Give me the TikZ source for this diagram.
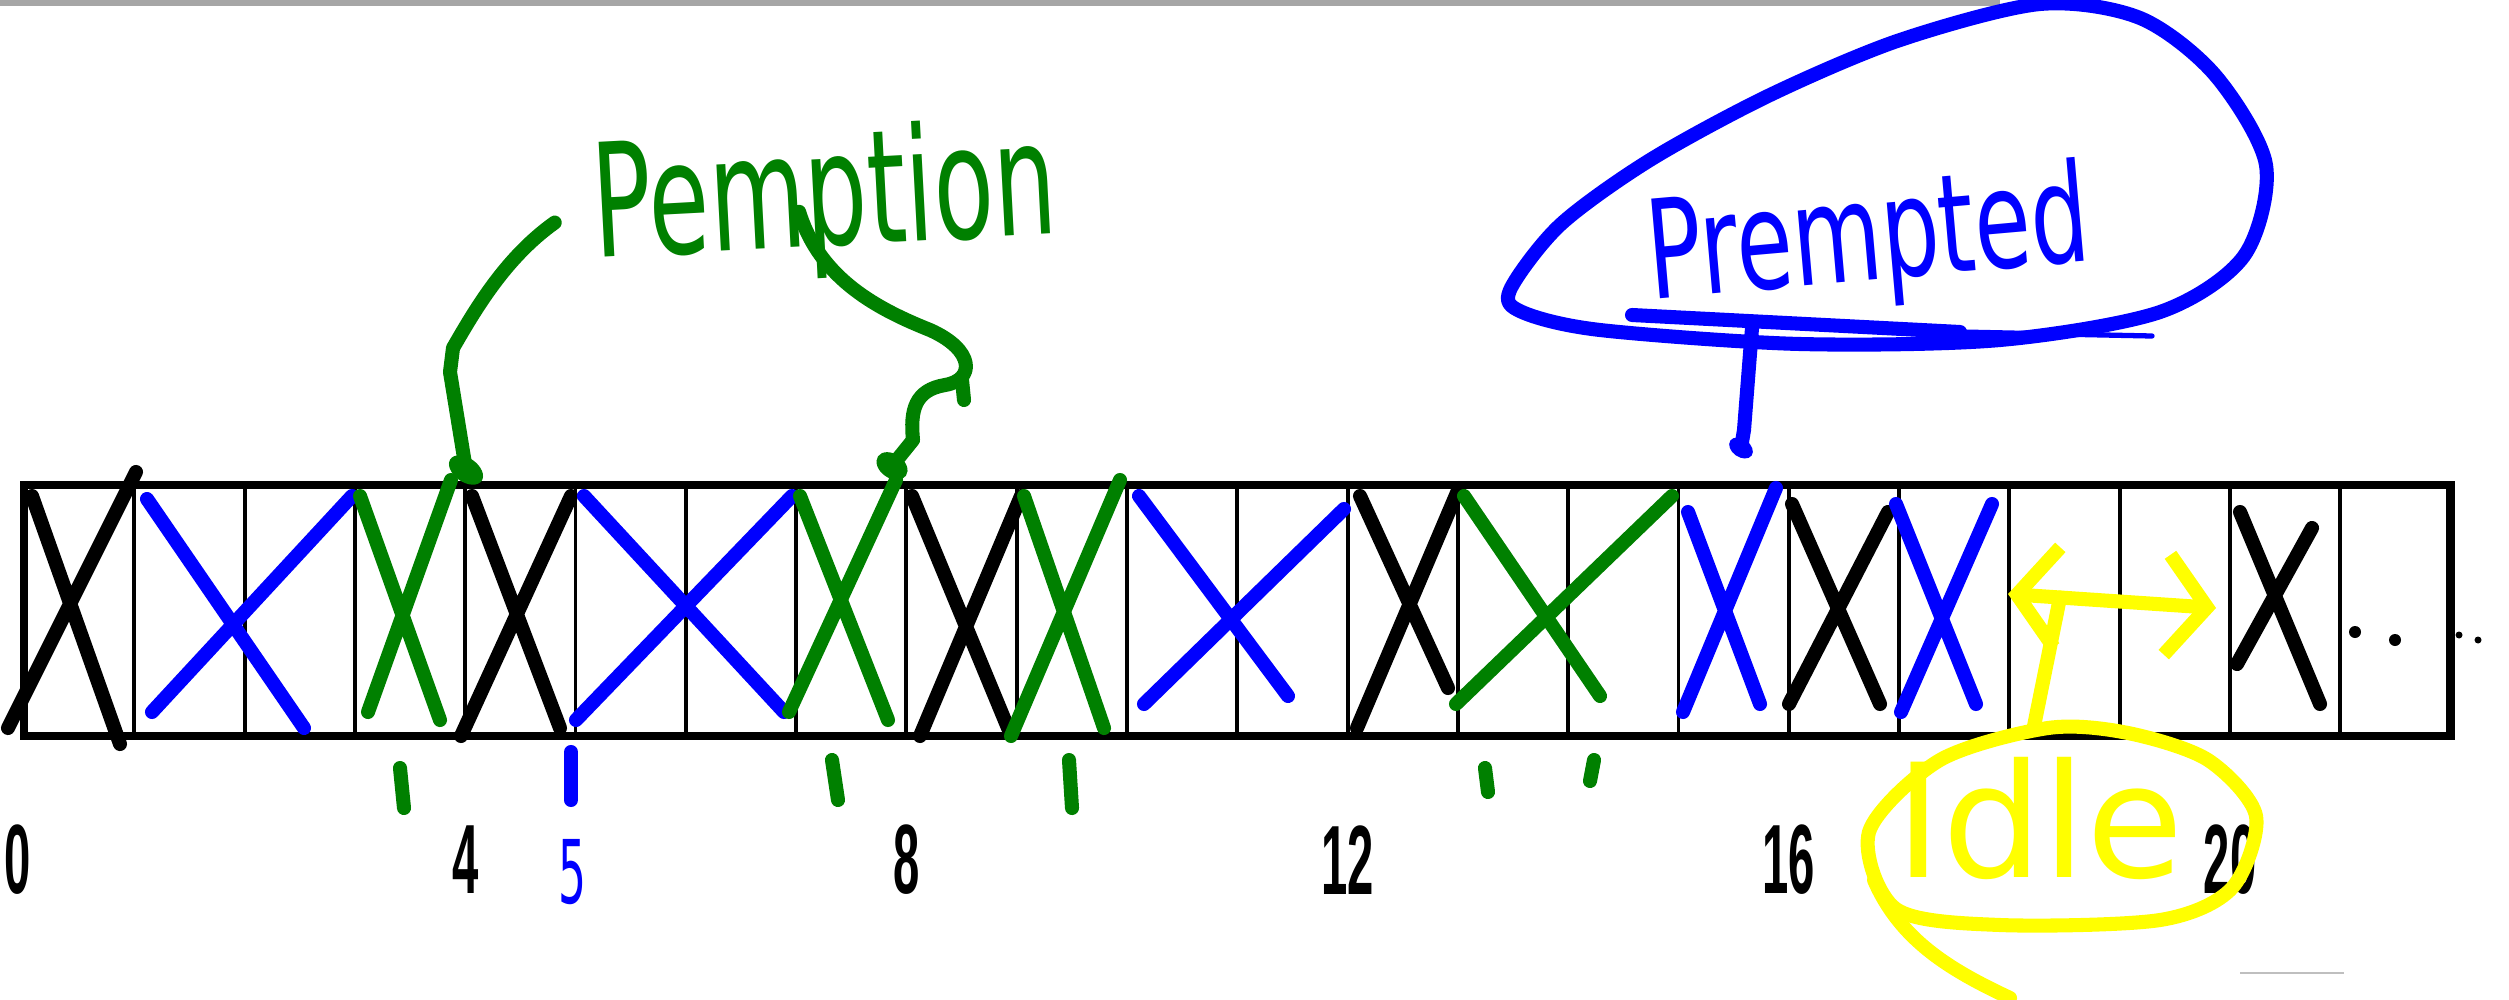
\documentclass[tikz,border=0pt]{standalone}
\usepackage{fontspec}
\newfontfamily\handfont{DejaVu Sans}
\newfontfamily\axisfont{Liberation Sans}
\usetikzlibrary{arrows.meta,calc}
\definecolor{penblue}{HTML}{0000FF}
\definecolor{pengreen}{HTML}{008000}
\definecolor{penyellow}{HTML}{FFFF00}

\begin{document}
\begin{tikzpicture}[
    x=0.01cm, y=-0.01cm,
    pen/.style={line width=4pt, line cap=round, line join=round},
    slotline/.style={line width=1.1pt},
    frameline/.style={line width=2.4pt},
    ticklbl/.style={font=\axisfont\bfseries\fontsize{28}{28}\selectfont, inner sep=0pt},
    handlbl/.style={inner sep=0pt}
]
\useasboundingbox (0,0) rectangle (2509,1000);
\draw[gray!70, line width=1.5pt] (0,3) -- (2000,3);
\draw[gray!50, line width=0.8pt] (2240,973) -- (2344,973);

\foreach \i in {0,...,22} \coordinate (s\i) at ({24+110.3*\i},485);
\foreach \i in {1,...,21} \draw[slotline] (s\i) -- ++(0,251);
\draw[frameline] (s0) rectangle ($(s22)+(0,251)$);

\foreach \clr/\ax/\ay/\bx/\by/\cx/\cy/\dx/\dy in {
    black/32/496/120/744/8/728/136/472,
    penblue/147/499/304/728/152/712/352/496,
    pengreen/360/496/440/720/368/712/451/480,
    black/472/496/560/728/461/736/571/496,
    penblue/584/496/784/712/576/720/792/496,
    pengreen/800/496/888/720/789/712/896/480,
    black/912/496/1008/728/920/736/1021/496,
    pengreen/1024/496/1104/728/1011/736/1120/480,
    penblue/1139/496/1288/696/1144/704/1344/509,
    black/1360/496/1448/688/1357/728/1459/488,
    pengreen/1464/496/1600/696/1456/704/1672/496,
    penblue/1688/512/1760/704/1683/712/1776/488,
    black/1792/504/1880/704/1789/704/1888/512,
    penblue/1896/504/1976/704/1901/712/1992/504,
    black/2240/512/2320/704/2237/664/2312/528}
    \draw[pen, \clr] (\ax,\ay) -- (\bx,\by) (\cx,\cy) -- (\dx,\dy);

\fill (2355,632) circle (0.06cm) (2395,640) circle (0.06cm)
      (2459,635) circle (0.035cm) (2478,640) circle (0.035cm);

\foreach \t in {4,8,...,20}
    \node[ticklbl] (n\t) at ($(s\t)+(0,375)$) {\scalebox{0.48}[1]{\t}};
\node[ticklbl] (n0) at ($(s0)+(-6,375)$) {\scalebox{0.48}[1]{0}};

\foreach \ax/\ay/\bx/\by in {400/768/404/808, 832/760/838/800, 1069/760/1072/808,
    1485/768/1488/792, 1594/760/1590/781}
    \draw[pen, pengreen] (\ax,\ay) -- (\bx,\by);
\draw[pen, penblue] (571,752) -- (571,800);
\node[handlbl, text=penblue] (five) at (572,872)
    {\scalebox{0.5}[1]{\handfont\fontsize{25}{25}\selectfont 5}};

\node[handlbl, text=pengreen, anchor=base west, rotate=3] (pem) at (595,258)
    {\scalebox{1}[1.6]{\handfont\fontsize{28}{28}\selectfont Pemption}};
\coordinate (g1) at (466,470);
\coordinate (g2) at (892,466);
\draw[pen, pengreen] ($(pem.west)+(-38,8)$) .. controls (505,258) and (475,310) .. (453,348)
    -- (450,372) -- (g1);
\draw[pen, pengreen] ($(pem.base)+(-28,-34)$) .. controls (820,280) and (880,310) .. (930,330)
    .. controls (975,350) and (975,380) .. (945,385)
    .. controls (915,390) and (910,410) .. (913,440) -- (g2);
\draw[pen, pengreen] (962,380) -- (964,400);
\fill[pengreen, rotate around={-35:(g1)}] (g1) ellipse (0.19cm and 0.12cm);
\fill[pengreen, rotate around={-35:(g2)}] (g2) ellipse (0.17cm and 0.12cm);

\draw[pen, penblue] plot[smooth cycle] coordinates {(1510,290) (1560,225) (1650,160)
    (1770,95) (1900,40) (2040,4) (2140,18) (2215,75) (2266,165) (2244,256)
    (2160,312) (2000,340) (1800,344) (1600,330) (1522,312)};
\node[handlbl, text=penblue, anchor=base, rotate=5] (pre) at (1872,280)
    {\scalebox{1}[1.5]{\handfont\fontsize{26}{26}\selectfont Prempted}};
\draw[pen, penblue] (1632,315) -- (1960,332);
\draw[penblue, line width=1.5pt, line cap=round] (1960,332) -- (2152,336);
\coordinate (b1) at (1741,448);
\draw[pen, penblue] ($(pre.base)+(-120,48)$) -- (1744,430) -- (b1);
\fill[penblue, rotate around={-35:(b1)}] (b1) ellipse (0.13cm and 0.09cm);

\coordinate (y1) at (2008,594);
\coordinate (y2) at (2216,608);
\draw[pen, penyellow, {Straight Barb[length=0.4cm,width=1.0cm]}-{Straight Barb[length=0.4cm,width=1.0cm]}]
    (y1) -- (y2);
\draw[pen, penyellow] ($(y1)!0.25!(y2)$) -- (2034,726);
\draw[pen, penyellow] plot[smooth cycle] coordinates {(2048,728) (2128,733) (2208,760)
    (2256,816) (2232,888) (2160,920) (2000,925) (1896,909) (1869,832) (1940,760)};
\draw[pen, penyellow] (1874,880) .. controls (1900,940) and (1950,970) .. (2010,998);
\node[handlbl, text=penyellow] (idle) at (2040,818)
    {\handfont\fontsize{45}{45}\selectfont Idle};
\end{tikzpicture}
\end{document}
